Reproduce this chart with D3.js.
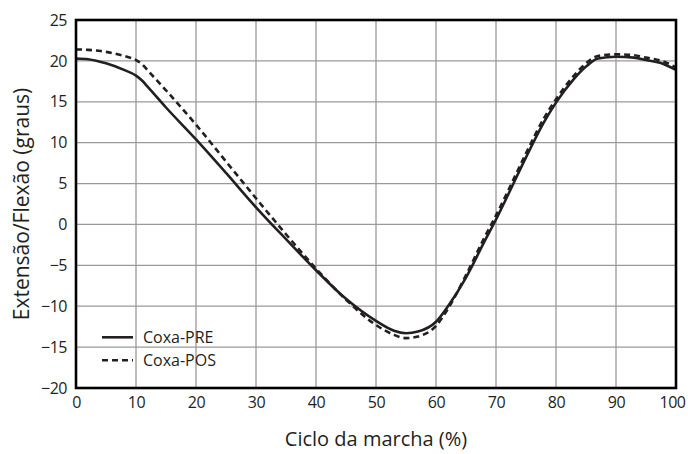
<!DOCTYPE html>
<meta charset="utf-8">
<style>
  body { margin: 0; background: #fff; }
  text { font-family: "Open Sans", sans-serif; fill: #231f20; }
  .tick text { font-size: 16px; letter-spacing: -0.5px; }
  .grid line { stroke: #9a9a9a; stroke-width: 1.3; }
</style>
<svg width="688" height="454"></svg>
<script src="https://d3js.org/d3.v7.min.js"></script>
<script>

// gait cycle (%) and hip angle (degrees)
var ciclo = [0, 2, 5, 8, 10, 11, 12, 15, 20, 25, 30, 35, 40, 45, 50, 53, 55, 57, 60, 62, 65, 68, 70, 72, 75, 78, 80, 83, 85, 87, 90, 93, 95, 98, 100];
var coxaPre = [20.3, 20.2, 19.7, 18.9, 18.2, 17.6, 16.8, 14.3, 10.4, 6.3, 2.1, -1.8, -5.6, -9.1, -11.8, -13.0, -13.3, -13.1, -11.9, -10.0, -6.5, -2.2, 0.6, 3.6, 8.2, 12.5, 14.9, 17.8, 19.3, 20.3, 20.5, 20.4, 20.1, 19.6, 18.9];
var coxaPos = [21.4, 21.35, 21.1, 20.6, 20.1, 19.6, 18.8, 16.4, 12.2, 7.7, 3.2, -1.2, -5.4, -9.2, -12.3, -13.5, -13.9, -13.7, -12.4, -10.3, -6.2, -1.7, 1.1, 4.1, 8.7, 13.0, 15.3, 18.2, 19.7, 20.6, 20.8, 20.7, 20.4, 19.9, 19.2];

var xTicks = [0, 10, 20, 30, 40, 50, 60, 70, 80, 90, 100];
var yTicks = [-20, -15, -10, -5, 0, 5, 10, 15, 20, 25];
var seriesNames = ["Coxa-PRE", "Coxa-POS"];

var svg = d3.select("svg"),
    margin = {top: 20, right: 12, bottom: 66, left: 76},
    width = +svg.attr("width"),
    height = +svg.attr("height");

var x = d3.scaleLinear()
    .domain([0, 100])
    .range([margin.left, width - margin.right]);

var y = d3.scaleLinear()
    .domain([-20, 25])
    .range([height - margin.bottom, margin.top]);

// grid
var grid = svg.append("g").attr("class", "grid");
grid.selectAll("line.v")
  .data(xTicks.slice(1, -1))
  .enter().append("line")
    .attr("x1", function(d) { return x(d); })
    .attr("x2", function(d) { return x(d); })
    .attr("y1", y(-20))
    .attr("y2", y(25));
grid.selectAll("line.h")
  .data(yTicks.slice(1, -1))
  .enter().append("line")
    .attr("x1", x(0))
    .attr("x2", x(100))
    .attr("y1", function(d) { return y(d); })
    .attr("y2", function(d) { return y(d); });

// axes (labels only, frame drawn separately)
var xAxis = d3.axisBottom(x).tickValues(xTicks).tickSize(0).tickPadding(9);
svg.append("g")
    .attr("transform", "translate(0," + y(-20) + ")")
    .call(xAxis)
    .call(function(g) { g.select(".domain").remove(); })
    .call(function(g) {
      // keep the last label inside the page
      g.selectAll(".tick text").filter(function(d) { return d === 100; }).attr("dx", -4);
    });

var yAxis = d3.axisLeft(y).tickValues(yTicks).tickSize(0).tickPadding(9)
    .tickFormat(function(d) { return d < 0 ? "\u2212" + Math.abs(d) : d; });
svg.append("g")
    .attr("transform", "translate(" + x(0) + ",0)")
    .call(yAxis)
    .call(function(g) { g.select(".domain").remove(); });

svg.selectAll(".tick text").attr("fill", "#231f20").style("font-size", "16px");

// lines
var line = d3.line()
    .x(function(d) { return x(d[0]); })
    .y(function(d) { return y(d[1]); })
    .curve(d3.curveMonotoneX);

svg.append("path")
    .datum(d3.zip(ciclo, coxaPre))
    .attr("fill", "none")
    .attr("stroke", "#231f20")
    .attr("stroke-width", 2.6)
    .attr("d", line);

svg.append("path")
    .datum(d3.zip(ciclo, coxaPos))
    .attr("fill", "none")
    .attr("stroke", "#231f20")
    .attr("stroke-width", 2.6)
    .attr("stroke-dasharray", "6,4")
    .attr("d", line);

// frame
svg.append("rect")
    .attr("x", x(0))
    .attr("y", y(25))
    .attr("width", x(100) - x(0))
    .attr("height", y(-20) - y(25))
    .attr("fill", "none")
    .attr("stroke", "#000")
    .attr("stroke-width", 2.6);

// legend
var legend = svg.append("g")
    .attr("transform", "translate(" + (x(0) + 26) + "," + (y(-13.8)) + ")");
legend.selectAll("g")
  .data(seriesNames)
  .enter().append("g")
    .attr("transform", function(d, i) { return "translate(0," + (i * 23) + ")"; })
    .each(function(d, i) {
      var g = d3.select(this);
      g.append("line")
          .attr("x1", 0).attr("x2", 31)
          .attr("stroke", "#231f20")
          .attr("stroke-width", 2.6)
          .attr("stroke-dasharray", i ? "6,4" : null);
      g.append("text")
          .attr("x", 41)
          .attr("dy", "0.35em")
          .style("font-size", "16px")
          .text(d);
    });

// axis titles
svg.append("text")
    .attr("x", (x(0) + x(100)) / 2)
    .attr("y", 446)
    .attr("text-anchor", "middle")
    .style("font-size", "20px")
    .text("Ciclo da marcha (%)");

svg.append("text")
    .attr("transform", "translate(29," + ((y(-20) + y(25)) / 2) + ") rotate(-90)")
    .attr("text-anchor", "middle")
    .style("font-size", "21px")
    .text("Extensão/Flexão (graus)");

</script>
